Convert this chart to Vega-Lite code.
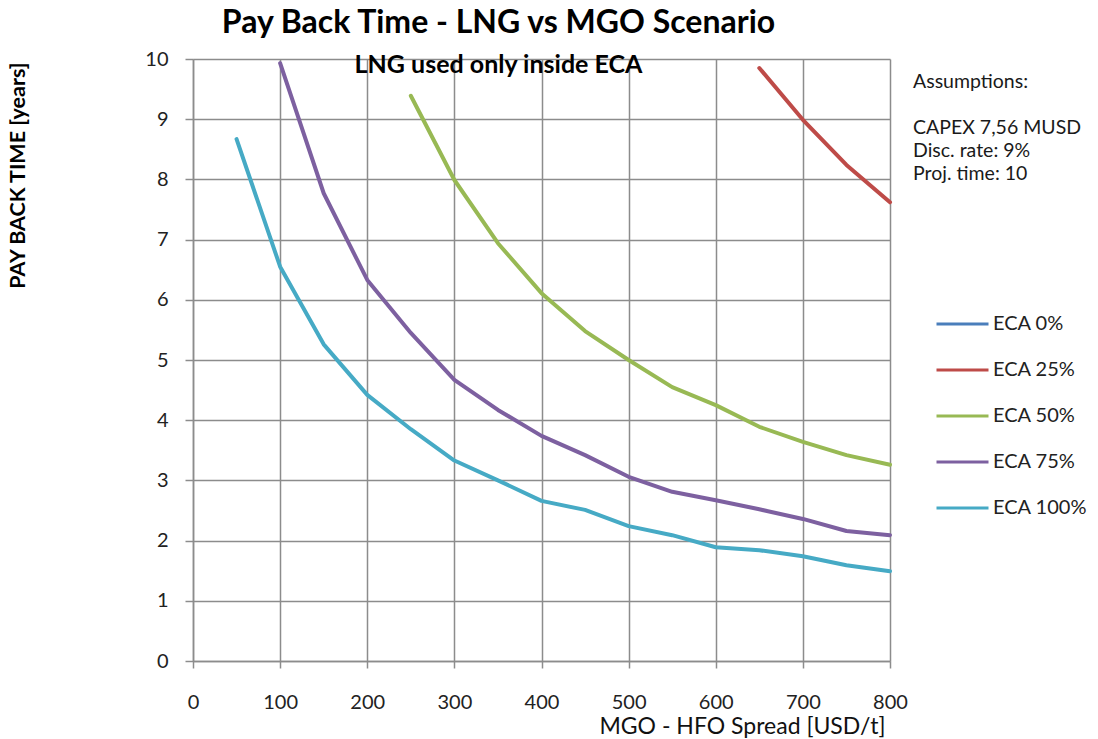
{
  "$schema": "https://vega.github.io/schema/vega-lite/v6.json",
  "autosize": {"type": "none"},
  "width": 697,
  "height": 602,
  "padding": {"left": 193, "top": 59, "right": 208, "bottom": 78},
  "background": "white",
  "title": {
    "text": "Pay Back Time - LNG vs MGO Scenario",
    "subtitle": "LNG used only inside ECA",
    "anchor": "middle",
    "frame": "group",
    "dx": -43,
    "offset": -30,
    "font": "Lato",
    "fontSize": 32,
    "fontWeight": "bold",
    "color": "#000000",
    "subtitleFont": "Lato",
    "subtitleFontSize": 25,
    "subtitleFontWeight": "bold",
    "subtitleColor": "#000000",
    "subtitlePadding": 13
  },
  "data": {
    "values": [
      {"spread": 650, "eca": "ECA 25%", "years": 9.85},
      {"spread": 700, "eca": "ECA 25%", "years": 8.99},
      {"spread": 750, "eca": "ECA 25%", "years": 8.24},
      {"spread": 800, "eca": "ECA 25%", "years": 7.62},
      {"spread": 250, "eca": "ECA 50%", "years": 9.39},
      {"spread": 300, "eca": "ECA 50%", "years": 7.99},
      {"spread": 350, "eca": "ECA 50%", "years": 6.94},
      {"spread": 400, "eca": "ECA 50%", "years": 6.11},
      {"spread": 450, "eca": "ECA 50%", "years": 5.48},
      {"spread": 500, "eca": "ECA 50%", "years": 5.0},
      {"spread": 550, "eca": "ECA 50%", "years": 4.55},
      {"spread": 600, "eca": "ECA 50%", "years": 4.25},
      {"spread": 650, "eca": "ECA 50%", "years": 3.89},
      {"spread": 700, "eca": "ECA 50%", "years": 3.64},
      {"spread": 750, "eca": "ECA 50%", "years": 3.42},
      {"spread": 800, "eca": "ECA 50%", "years": 3.26},
      {"spread": 100, "eca": "ECA 75%", "years": 9.93},
      {"spread": 150, "eca": "ECA 75%", "years": 7.77},
      {"spread": 200, "eca": "ECA 75%", "years": 6.33},
      {"spread": 250, "eca": "ECA 75%", "years": 5.45},
      {"spread": 300, "eca": "ECA 75%", "years": 4.67},
      {"spread": 350, "eca": "ECA 75%", "years": 4.17},
      {"spread": 400, "eca": "ECA 75%", "years": 3.74},
      {"spread": 450, "eca": "ECA 75%", "years": 3.42},
      {"spread": 500, "eca": "ECA 75%", "years": 3.06},
      {"spread": 550, "eca": "ECA 75%", "years": 2.81},
      {"spread": 600, "eca": "ECA 75%", "years": 2.67},
      {"spread": 650, "eca": "ECA 75%", "years": 2.52},
      {"spread": 700, "eca": "ECA 75%", "years": 2.36},
      {"spread": 750, "eca": "ECA 75%", "years": 2.16},
      {"spread": 800, "eca": "ECA 75%", "years": 2.09},
      {"spread": 50, "eca": "ECA 100%", "years": 8.67},
      {"spread": 100, "eca": "ECA 100%", "years": 6.55},
      {"spread": 150, "eca": "ECA 100%", "years": 5.26},
      {"spread": 200, "eca": "ECA 100%", "years": 4.42},
      {"spread": 250, "eca": "ECA 100%", "years": 3.85},
      {"spread": 300, "eca": "ECA 100%", "years": 3.33},
      {"spread": 350, "eca": "ECA 100%", "years": 3.0},
      {"spread": 400, "eca": "ECA 100%", "years": 2.66},
      {"spread": 450, "eca": "ECA 100%", "years": 2.51},
      {"spread": 500, "eca": "ECA 100%", "years": 2.24},
      {"spread": 550, "eca": "ECA 100%", "years": 2.09},
      {"spread": 600, "eca": "ECA 100%", "years": 1.89},
      {"spread": 650, "eca": "ECA 100%", "years": 1.84},
      {"spread": 700, "eca": "ECA 100%", "years": 1.74},
      {"spread": 750, "eca": "ECA 100%", "years": 1.59},
      {"spread": 800, "eca": "ECA 100%", "years": 1.49}
    ]
  },
  "mark": {"type": "line", "strokeWidth": 4, "strokeCap": "round", "strokeJoin": "round"},
  "encoding": {
    "x": {
      "field": "spread",
      "type": "quantitative",
      "scale": {"domain": [0, 800], "nice": false, "zero": true},
      "axis": {
        "title": "MGO  - HFO Spread [USD/t]",
        "values": [0, 100, 200, 300, 400, 500, 600, 700, 800],
        "titleAnchor": "end",
        "titleAlign": "right",
        "titleX": 692,
        "titleY": 65,
        "titleBaseline": "middle",
        "titleFont": "Lato",
        "titleFontSize": 23,
        "titleFontWeight": "normal",
        "titleColor": "#111111",
        "labelFont": "Lato",
        "labelFontSize": 20,
        "labelColor": "#222222",
        "labelPadding": 24,
        "labelFlush": false,
        "tickSize": 7,
        "tickColor": "#8c8c8c",
        "tickWidth": 1.5,
        "domainColor": "#8c8c8c",
        "domainWidth": 1.5,
        "gridColor": "#8c8c8c",
        "gridWidth": 1.5
      }
    },
    "y": {
      "field": "years",
      "type": "quantitative",
      "scale": {"domain": [0, 10], "nice": false},
      "axis": {
        "title": "PAY BACK TIME [years]",
        "values": [0, 1, 2, 3, 4, 5, 6, 7, 8, 9, 10],
        "titleAnchor": "end",
        "titleX": -175,
        "titleY": 3,
        "titleAlign": "right",
        "titleAngle": -90,
        "titleBaseline": "middle",
        "titleFont": "Lato",
        "titleFontSize": 21.5,
        "titleFontWeight": "bold",
        "titleColor": "#000000",
        "labelFont": "Lato",
        "labelFontSize": 20,
        "labelColor": "#222222",
        "labelPadding": 17,
        "labelFlush": false,
        "tickSize": 8,
        "tickColor": "#8c8c8c",
        "tickWidth": 1.5,
        "domainColor": "#8c8c8c",
        "domainWidth": 1.5,
        "gridColor": "#8c8c8c",
        "gridWidth": 1.5
      }
    },
    "color": {
      "field": "eca",
      "type": "nominal",
      "scale": {
        "domain": ["ECA 0%", "ECA 25%", "ECA 50%", "ECA 75%", "ECA 100%"],
        "range": ["#4A7EBB", "#BE4B48", "#98B954", "#7D60A0", "#46AAC5"]
      },
      "legend": {
        "title": ["Assumptions:", "\u2800", "CAPEX 7,56 MUSD", "Disc. rate: 9%", "Proj. time: 10"],
        "orient": "none",
        "legendX": 720,
        "legendY": 14,
        "padding": 0,
        "titleFont": "Lato",
        "titleFontSize": 19.5,
        "titleFontWeight": "normal",
        "titleColor": "#1a1a1a",
        "titleLineHeight": 23,
        "titlePadding": 112,
        "symbolType": "stroke",
        "symbolSize": 2704,
        "symbolStrokeWidth": 3,
        "symbolOffset": 22,
        "labelFont": "Lato",
        "labelFontSize": 20,
        "labelColor": "#222222",
        "labelOffset": 3,
        "rowPadding": 8
      }
    }
  },
  "config": {
    "view": {"stroke": null}
  }
}
